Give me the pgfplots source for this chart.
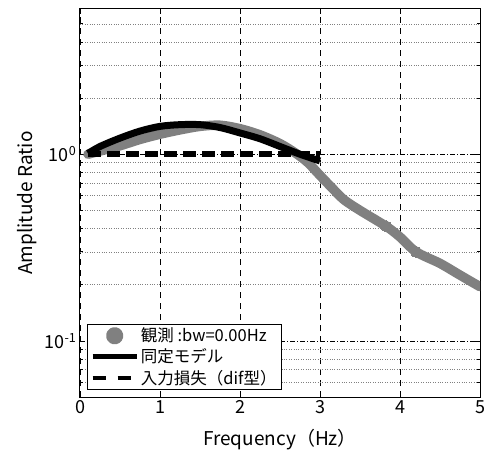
\documentclass[border=0pt]{standalone}
\usepackage{fontspec}
\setmainfont{Noto Sans CJK JP}
\usepackage{pgfplots}
\pgfplotsset{compat=1.18}
\definecolor{obsgray}{RGB}{128,128,128}
\begin{document}
\begin{tikzpicture}
\useasboundingbox (-80pt,-58pt) rectangle (406pt,397pt);
\begin{axis}[
  scale only axis, width=400pt, height=388pt,
  ymode=log, xmin=0, xmax=5, ymin=0.05, ymax=6,
  xtick={0,1,2,3,4,5},
  ytick={0.1,1}, yticklabels={10\textsuperscript{-1},10\textsuperscript{0}},
  minor ytick={0.06,0.07,0.08,0.09,0.2,0.3,0.4,0.5,0.6,0.7,0.8,0.9,2,3,4,5},
  /pgf/number format/assume math mode=true,
  tick align=inside, major tick length=5pt, minor tick length=3pt,
  xmajorgrids, ymajorgrids, yminorgrids,
  major x grid style={black, dash pattern=on 6pt off 5pt, line width=0.5pt},
  major y grid style={black, dash pattern=on 5pt off 2pt on 1pt off 2pt, line width=0.4pt},
  minor y grid style={gray, dotted, line width=0.5pt},
  axis line style={line width=1pt},
  every tick/.style={black, line width=0.6pt},
  tick label style={font=\fontsize{18}{21}\selectfont},
  label style={font=\fontsize{19}{22}\selectfont},
  xlabel={Frequency（Hz）}, ylabel={Amplitude Ratio},
  xlabel style={at={(axis description cs:0.5,-0.111)}, anchor=center},
  ylabel style={at={(axis description cs:-0.1325,0.5)}, anchor=center},
  legend style={at={(axis description cs:0.0175,0.018)}, anchor=south west,
    draw=black, line width=0.8pt, fill=white,
    font=\fontsize{16.5}{18}\selectfont, inner xsep=3pt, inner ysep=2pt,
    row sep=1.5pt},
  legend cell align=left,
]
\addplot[obsgray, line width=9.5pt, line cap=round, line join=round, smooth, tension=0.5,
  mark=*, mark indices={18,20}, mark size=5.5pt, mark options={fill=obsgray, draw=obsgray, line width=0pt},
  legend image code/.code={\fill[obsgray] (22pt,0pt) circle (4pt);}]
coordinates {
(0.1,1.0) (0.25,1.04) (0.5,1.11) (0.75,1.2) (1.0,1.28) (1.25,1.35) (1.5,1.41)
(1.75,1.43) (2.0,1.37) (2.25,1.27) (2.5,1.14) (2.7,1.01) (2.85,0.9) (3.0,0.77)
(3.15,0.66) (3.3,0.57) (3.5,0.5) (3.83,0.41) (4.0,0.36) (4.2,0.30) (4.5,0.26)
(4.75,0.225) (5.0,0.195)
};
\addlegendentry{観測 :bw=0.00Hz}
\addplot[black, line width=7pt, line join=round, smooth, tension=0.5,
  legend image code/.code={\draw[black, line width=4.5pt] (0pt,0pt) -- (44pt,0pt);}]
coordinates {
(0.1,1.01) (0.25,1.1) (0.5,1.22) (0.75,1.33) (1.0,1.41) (1.25,1.44) (1.5,1.44)
(1.75,1.39) (2.0,1.30) (2.25,1.21) (2.5,1.10) (2.75,1.0) (3.0,0.92)
};
\addlegendentry{同定モデル}
\addplot[black, line width=5.5pt, dash pattern=on 13pt off 6pt,
  legend image code/.code={\draw[black, line width=4.5pt] (0pt,0pt) -- (19pt,0pt) (25pt,0pt) -- (44pt,0pt);}]
coordinates {(0.1,1.0) (3.0,1.0)};
\addlegendentry{入力損失（dif型）}
\end{axis}
\end{tikzpicture}
\end{document}
